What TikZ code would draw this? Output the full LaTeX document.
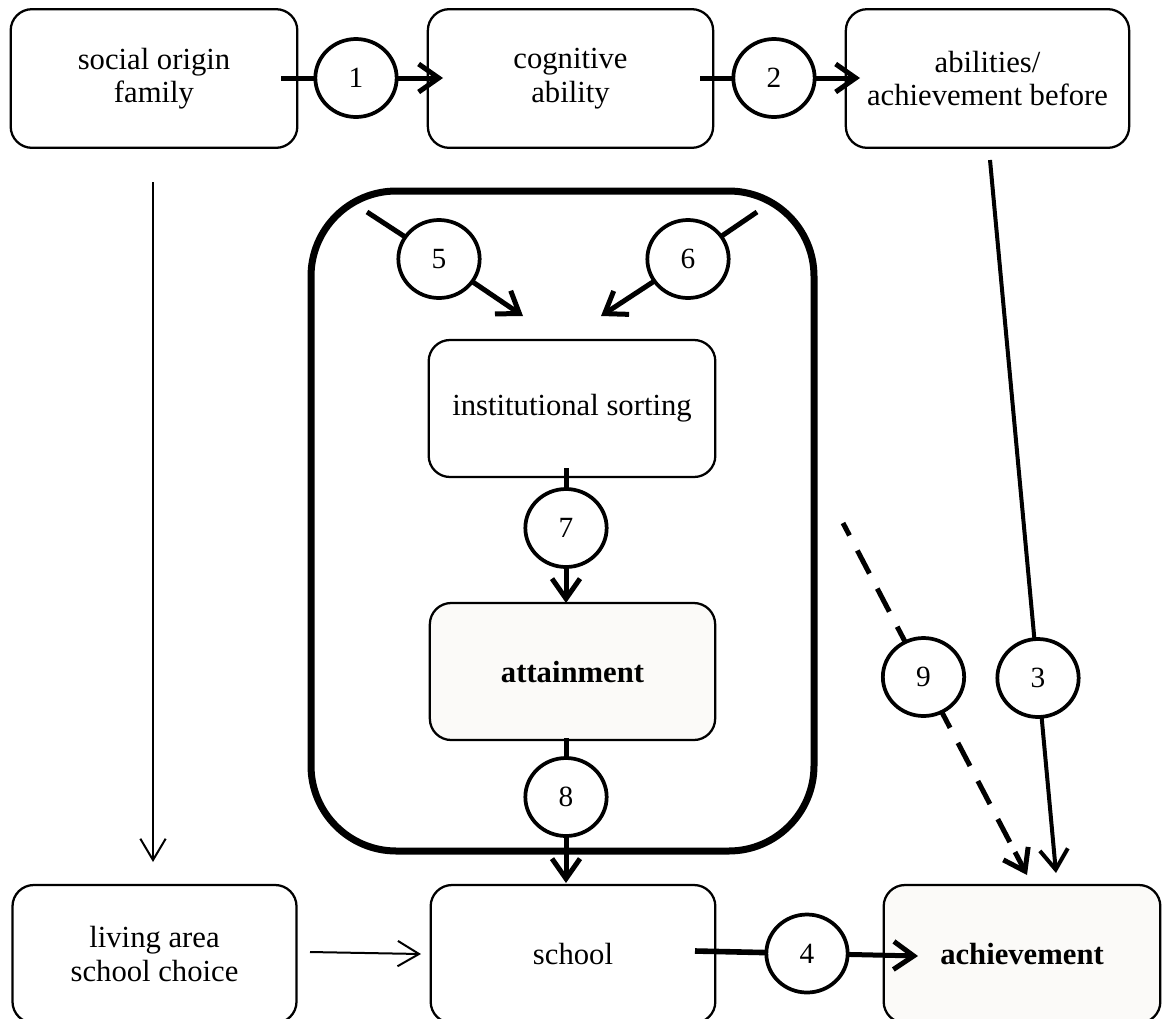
\documentclass[tikz,border=0pt]{standalone}
\usepackage{fontspec}
\setmainfont{Liberation Serif}
\usetikzlibrary{arrows.meta,shapes.geometric}
\definecolor{lightfill}{HTML}{FBFAF8}
\begin{document}
\begin{tikzpicture}[x=0.75pt,y=-0.75pt,
  box/.style={draw, line width=1.7pt, rounded corners=16pt, inner sep=0pt, outer sep=0pt,
    align=center, font=\fontsize{23}{25}\selectfont},
  boldbox/.style={box, fill=lightfill, font=\fontsize{23}{25}\selectfont\bfseries},
  num/.style={draw, ellipse, line width=2.8pt, fill=white, minimum width=61pt,
    minimum height=58.5pt, inner sep=0pt, outer sep=0pt, font=\fontsize{22}{22}\selectfont},
  frame/.style={draw, line width=5.25pt, rounded corners=64pt, inner sep=0pt, outer sep=0pt},
  thk/.style={line width=3.75pt},
  thktip/.style={-{Straight Barb[length=15pt,width=21pt]}},
  thinarrow/.style={line width=1.5pt, -{Straight Barb[length=16pt,width=19pt]}},
  dashline/.style={line width=3.75pt, dash pattern=on 19.5pt off 12.75pt},
]
\useasboundingbox (0,0) rectangle (1163,1018);
\clip (0,0) rectangle (1163,1018);

% container frame
\node[frame, minimum width=377.25pt, minimum height=495pt] (grp) at (562.5,521) {};

% boxes
\node[box, minimum width=215pt, minimum height=104pt] (soc) at (154,78.5) {social origin\\family};
\node[box, minimum width=214pt, minimum height=104pt] (cog) at (570.5,78.5) {cognitive\\ability};
\node[box, minimum width=212.5pt, minimum height=104pt] (abil) at (987.5,78.5) {abilities/\\achievement before};
\node[box, minimum width=215pt, minimum height=102.75pt] (inst) at (572,408.5) {institutional sorting};
\node[boldbox, minimum width=214pt, minimum height=102.75pt] (att) at (572.5,671.5) {attainment};
\node[box, minimum width=213pt, minimum height=103.5pt] (living) at (154.5,954) {living area\\school choice};
\node[box, minimum width=213.5pt, minimum height=103.5pt] (school) at (573,954) {school};
\node[boldbox, minimum width=207.5pt, minimum height=103.5pt] (achv) at (1022,954) {achievement};

% numbered circles
\node[num] (c1) at (356,78) {1};
\node[num] (c2) at (774,78) {2};
\node[num] (c5) at (439,259) {5};
\node[num] (c6) at (688,259) {6};
\node[num] (c7) at (566,528) {7};
\node[num] (c8) at (566,797) {8};
\node[num] (c9) at (923.5,677) {9};
\node[num] (c3) at (1038,678) {3};
\node[num] (c4) at (807,953.5) {4};

% free ends of connectors
\coordinate (a1s) at (281,78);   \coordinate (a1e) at (443,78);
\coordinate (a2s) at (700,78);   \coordinate (a2e) at (860,78);
\coordinate (a5s) at (367,212);  \coordinate (a5e) at (523,316);
\coordinate (a6s) at (757,212);  \coordinate (a6e) at (601,316);
\coordinate (a7s) at (566,468);  \coordinate (a7e) at (566,603);
\coordinate (a8s) at (566,738);  \coordinate (a8e) at (566,883);
\coordinate (a3s) at (990,160);  \coordinate (a3e) at (1056,873);
\coordinate (a9s) at (843,523);  \coordinate (a9m) at (1015,852); \coordinate (a9e) at (1027,875);
\coordinate (a4s) at (695,951);  \coordinate (a4e) at (918,956);
\coordinate (vs) at (153,182);   \coordinate (ve) at (153,862);
\coordinate (ls) at (310,952);   \coordinate (le) at (421,954);

% connectors
\draw[thk] (a1s) -- (c1);  \draw[thk,thktip] (c1) -- (a1e);
\draw[thk] (a2s) -- (c2);  \draw[thk,thktip] (c2) -- (a2e);
\draw[thk] (a5s) -- (c5);  \draw[thk,thktip] (c5) -- (a5e);
\draw[thk] (a6s) -- (c6);  \draw[thk,thktip] (c6) -- (a6e);
\draw[thk] (a7s) -- (c7);  \draw[thk,thktip] (c7) -- (a7e);
\draw[thk] (a8s) -- (c8);  \draw[thk,thktip] (c8) -- (a8e);
\draw[line width=3pt] (a3s) -- (c3);  \draw[line width=3pt,thktip] (c3) -- (a3e);
\draw[dashline, dash phase=9pt] (a9s) -- (c9);
\draw[dashline, dash phase=6pt] (c9) -- (a9m);
\draw[thk,thktip] (a9m) -- (a9e);
\draw[line width=4.2pt] (a4s) -- (c4);  \draw[thk,thktip] (c4) -- (a4e);
\draw[thinarrow] (vs) -- (ve);
\draw[thinarrow] (ls) -- (le);
\end{tikzpicture}
\end{document}
